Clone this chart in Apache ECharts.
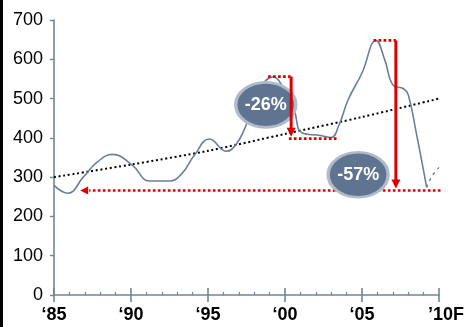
<!DOCTYPE html>
<html>
<head>
<meta charset="utf-8">
<script src="https://cdn.jsdelivr.net/npm/echarts@6/dist/echarts.min.js"></script>
<style>
  html, body { margin: 0; padding: 0; background: #fff; }
  #chart { width: 467px; height: 327px; }
</style>
</head>
<body>
<div id="chart"></div>
<script>
// Price history (year, value)
const years = [1985, 1985.9, 1986.9, 1987.8, 1988.8, 1990.1, 1991.2, 1992.5, 1993.3, 1994.1,
  1995.1, 1996.2, 1996.8, 1997.4, 1998.4, 1999.2, 2000.0, 2000.6,
  2001.1, 2002.3, 2003.0, 2003.5, 2004.1, 2005.0, 2005.9, 2006.5,
  2007.0, 2007.7, 2008.0, 2008.5, 2009.2];
const prices = [279, 259, 300, 338, 358, 330, 290, 290, 309, 355,
  397, 366, 382, 425, 525, 555, 520, 470,
  413, 406, 401, 432, 497, 565, 648, 596,
  535, 525, 510, 418, 274];

// Forecast tail
const forecastYears = [2009.2, 2009.5, 2010.0];
const forecastPrices = [274, 300, 325];

// Long-run trend
const trendYears = [1985, 1990, 1995, 2000, 2005, 2010];
const trendValues = [300, 332, 367, 410, 453, 500];

// Axis labels
const xTickYears = [1985, 1990, 1995, 2000, 2005, 2010];
const xTickLabels = ['\u201885', '\u201890', '\u201895', '\u201800', '\u201805', '\u201910F'];

// Peak-to-trough drops
const dropLabels = ['-26%', '-57%'];
const dropYears = [2000.4, 2007.2];
const dropHighs = [556, 648];
const dropLows = [398, 266];
const peakStartYears = [1998.9, 2005.75];
const troughFromYears = [2000.25, 2010.1];
const troughToYears = [2003.5, 1986.7];

const AXIS = '#71849c';
const RED = '#dd0000';
const FONT = 'Liberation Sans, Arial, sans-serif';

const lineData = years.map((y, i) => [y, prices[i]]);
const forecastData = forecastYears.map((y, i) => [y, forecastPrices[i]]);
const trendData = trendYears.map((y, i) => [y, trendValues[i]]);

// segments: [x1, y1, x2, y2, kind]  kind 0 = dotted, 1 = solid arrow, 2 = dotted with arrowhead
const dottedSegs = [];
const arrowSegs = [];
for (let i = 0; i < dropYears.length; i++) {
  dottedSegs.push([peakStartYears[i], dropHighs[i], dropYears[i], dropHighs[i], 0]);
  dottedSegs.push([troughFromYears[i], dropLows[i], troughToYears[i], dropLows[i], i === 1 ? 2 : 0]);
  arrowSegs.push([dropYears[i], dropHighs[i], dropYears[i], dropLows[i], 1]);
}

function renderAnnot(params, api) {
  const p1 = api.coord([api.value(0), api.value(1)]);
  const p2 = api.coord([api.value(2), api.value(3)]);
  const kind = api.value(4);
  if (kind === 1) {
    const tipY = p2[1] - 2, head = 9, half = 4.5;
    return {
      type: 'group',
      children: [
        { type: 'line', shape: { x1: p1[0], y1: p1[1], x2: p2[0], y2: tipY - head + 1 },
          style: { stroke: RED, lineWidth: 3 } },
        { type: 'polygon', shape: { points: [[p2[0] - half, tipY - head], [p2[0] + half, tipY - head], [p2[0], tipY]] },
          style: { fill: RED } }
      ]
    };
  }
  const children = [];
  let endX = p2[0];
  if (kind === 2) {
    const head = 8, half = 4;
    children.push({ type: 'polygon',
      shape: { points: [[p2[0], p2[1]], [p2[0] + head, p2[1] - half], [p2[0] + head, p2[1] + half]] },
      style: { fill: RED } });
    endX = p2[0] + head + 1;
  }
  children.push({ type: 'line', shape: { x1: p1[0], y1: p1[1], x2: endX, y2: p2[1] },
    style: { stroke: RED, lineWidth: 2.7, lineDash: [2.7, 2.3] } });
  return { type: 'group', children };
}

const ELLIPSE = 'path://M0,20A20,20 0 1,0 40,20A20,20 0 1,0 0,20Z';

const chart = echarts.init(document.getElementById('chart'), null, { renderer: 'canvas' });
chart.setOption({
  animation: false,
  backgroundColor: '#ffffff',
  grid: { left: 54, right: 26, top: 20, bottom: 32, containLabel: false },
  xAxis: [
    {
      type: 'value', min: 1985, max: 2010, interval: 5,
      axisLine: { show: true, lineStyle: { color: AXIS, width: 1.6 } },
      axisTick: { show: true, length: 7, lineStyle: { color: AXIS, width: 1.6 } },
      splitLine: { show: false },
      axisLabel: {
        margin: 11, color: '#000', fontFamily: FONT, fontWeight: 'bold', fontSize: 18,
        formatter: v => {
          const idx = xTickYears.indexOf(v);
          if (idx < 0) return '';
          const t = xTickLabels[idx];
          return idx === xTickYears.length - 1 ? '{f|' + t + '}' : t;
        },
        rich: { f: { padding: [0, 0, 0, 14], color: '#000', fontFamily: FONT, fontWeight: 'bold', fontSize: 18 } }
      }
    },
    {
      type: 'value', min: 1985, max: 2010, interval: 5, position: 'bottom',
      axisLine: { show: false },
      axisTick: { show: true, inside: true, length: 7, lineStyle: { color: AXIS, width: 1.6 } },
      minorTick: { show: true, splitNumber: 5, length: 3, lineStyle: { color: AXIS, width: 1.2 } },
      axisLabel: { show: false },
      splitLine: { show: false }
    }
  ],
  yAxis: {
    type: 'value', min: 0, max: 700, interval: 100,
    axisLine: { show: true, lineStyle: { color: AXIS, width: 1.6 } },
    axisTick: { show: true, length: 4, lineStyle: { color: AXIS, width: 1.4 } },
    splitLine: { show: false },
    axisLabel: { margin: 11, color: '#000', fontFamily: FONT, fontSize: 18 }
  },
  graphic: [
    { type: 'rect', left: 0, top: 0, shape: { width: 3, height: 327 }, style: { fill: '#000' } }
  ],
  series: [
    {
      name: 'trend', type: 'line', data: trendData, smooth: 0.3, symbol: 'none', z: 2,
      lineStyle: { color: '#000', width: 2, type: [2, 2.7] }
    },
    {
      name: 'price', type: 'line', data: lineData, smooth: 0.45, symbol: 'none', z: 3,
      lineStyle: { color: '#6a7f9a', width: 1.6 }
    },
    {
      name: 'forecast', type: 'line', data: forecastData, smooth: 0.3, symbol: 'none', z: 3,
      lineStyle: { color: '#6a7f9a', width: 1.3, type: [3, 4] }
    },
    {
      name: 'levels', type: 'custom', renderItem: renderAnnot, data: dottedSegs, z: 4, silent: true
    },
    {
      name: 'drops', type: 'scatter', z: 5, silent: true,
      symbol: ELLIPSE, symbolKeepAspect: false, symbolSize: [60, 45],
      itemStyle: { color: '#5f7491', borderColor: '#b0bbc9', borderWidth: 3, opacity: 1 },
      label: {
        show: true, position: 'inside', color: '#fff', fontFamily: FONT, fontWeight: 'bold', fontSize: 18,
        formatter: p => dropLabels[p.dataIndex]
      },
      data: [[1998.75, 484], [2004.75, 306]]
    },
    {
      name: 'arrows', type: 'custom', renderItem: renderAnnot, data: arrowSegs, z: 6, silent: true
    }
  ]
});
</script>
</body>
</html>
